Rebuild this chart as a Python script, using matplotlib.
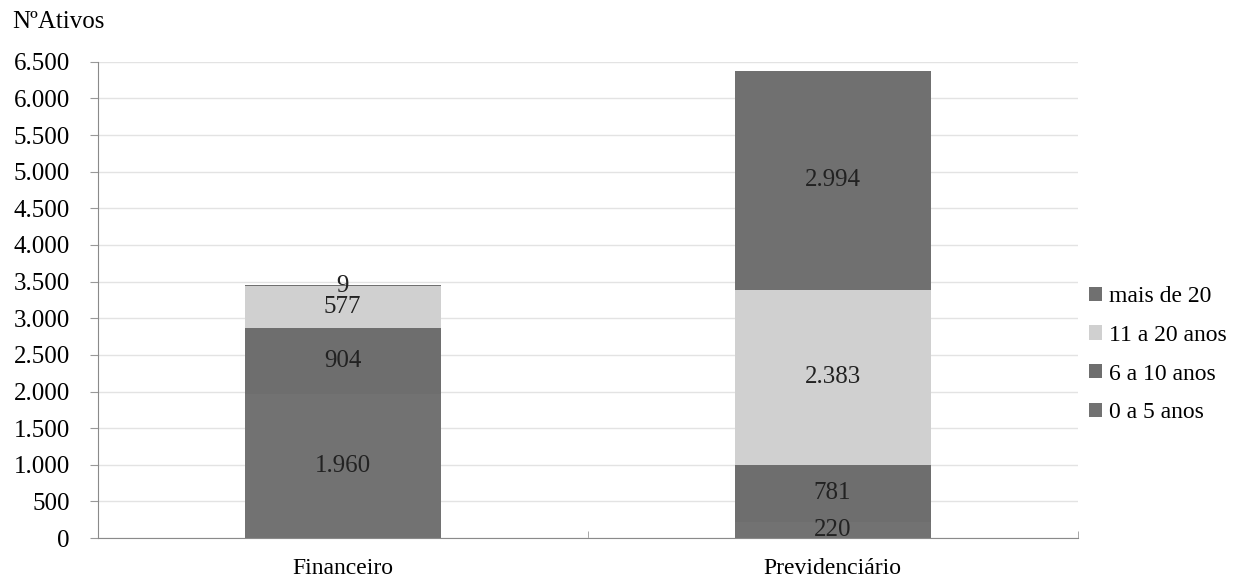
import numpy as np
import matplotlib.pyplot as plt
from matplotlib.ticker import FuncFormatter

categorias = ['Financeiro', 'Previdenciário']
series = ['0 a 5 anos', '6 a 10 anos', '11 a 20 anos', 'mais de 20']
val_0a5 = [1960, 220]
val_6a10 = [904, 781]
val_11a20 = [577, 2383]
val_mais20 = [9, 2994]
cores = ['#727272', '#6e6e6e', '#d0d0d0', '#707070']

plt.rcParams['font.family'] = 'Liberation Serif'

fig = plt.figure(figsize=(12.53, 5.83), dpi=100)
ax = fig.add_axes([0.078, 0.077, 0.782, 0.817])

x = np.arange(len(categorias))
base = np.zeros(len(categorias))
valores = [val_0a5, val_6a10, val_11a20, val_mais20]
handles = []
for nome, vals, cor in zip(series, valores, cores):
    b = ax.bar(x, vals, bottom=base, width=0.4, color=cor, label=nome, zorder=2)
    handles.append(b)
    for xi, v, b0 in zip(x, vals, base):
        txt = f'{v:,}'.replace(',', '.')
        ax.text(xi, b0 + v / 2, txt, ha='center', va='center', fontsize=18,
                color='#222222', zorder=3)
    base = base + np.array(vals)

ax.set_xlim(-0.5, 1.5)
ax.set_ylim(0, 6500)
ax.set_yticks(np.arange(0, 6501, 500))
ax.yaxis.set_major_formatter(FuncFormatter(lambda v, p: f'{int(v):,}'.replace(',', '.')))
ax.set_xticks(x)
ax.set_xticklabels(categorias)
ax.set_xticks([-0.5, 0.5, 1.5], minor=True)
ax.tick_params(axis='x', which='major', length=0, labelsize=17, pad=14)
ax.tick_params(axis='x', which='minor', length=5, direction='in', color='#999999')
ax.tick_params(axis='y', length=6, color='#999999', labelsize=18, pad=14)
ax.grid(axis='y', color='#e3e3e3', linewidth=1, zorder=0)
for s in ['top', 'right']:
    ax.spines[s].set_visible(False)
ax.spines['left'].set_color('#8a8a8a')
ax.spines['bottom'].set_color('#8a8a8a')

fig.text(0.010, 0.962, 'NºAtivos', fontsize=18, ha='left', va='center')

ax.legend(handles[::-1], series[::-1], loc='center left', bbox_to_anchor=(1.012, 0.385),
          frameon=False, fontsize=17, handlelength=0.55, handleheight=0.55,
          handletextpad=0.3, labelspacing=0.75, borderpad=0, borderaxespad=0)

fig.savefig('out.png', dpi=100)
